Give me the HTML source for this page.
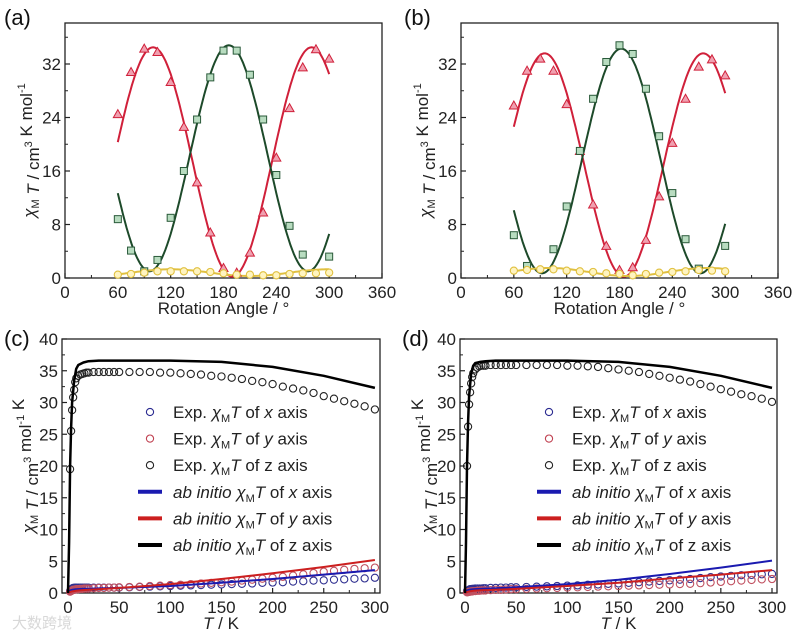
<!DOCTYPE html>
<html><head><meta charset="utf-8">
<style>
body{margin:0;background:#fff}
svg{display:block;font-family:"Liberation Sans","Noto Sans CJK SC",sans-serif}
</style></head>
<body>
<svg id="chart" width="800" height="638" viewBox="0 0 800 638" xmlns="http://www.w3.org/2000/svg"></svg>
<script>
// ---------- data: panels a/b (rotation angle) ----------
const angles = [60,75,90,105,120,135,150,165,180,195,210,225,240,255,270,285,300];
const aRed = [24.5,30.8,34.3,33.8,29.3,22.6,14.3,6.8,1.5,0.8,3.8,9.8,18,25.4,31.5,34.2,32.8];
const aGreen = [8.8,4.1,1.0,2.7,9.0,16,23.7,30,34,34,30.4,23.7,15.4,7.8,3.5,null,3.2];
const aYellow = [0.5,0.6,0.8,1.0,1.0,1.0,1.0,0.9,0.7,0.5,0.5,0.4,0.4,0.6,0.7,0.7,0.8];
const bRed = [25.8,31,32.8,31,26,19,11,4.8,1.2,1.6,5.7,12.2,20.2,26.8,31.6,32.7,30.3];
const bGreen = [6.4,1.8,null,4.3,10.7,19,26.8,32.3,34.8,33.5,28.3,21.2,12.7,5.8,1.4,null,4.8];
const bYellow = [1.1,1.2,1.3,1.3,1.1,1.0,0.9,0.7,0.6,0.4,0.6,0.8,0.9,1.0,1.2,1.1,1.0];
// fit parameters [min, max, phase-of-min (deg)] for cos² fits, period 180°
const aRedFit = [0.2,34.5,190], aGreenFit = [1.0,34.8,96], aYellowFit = [0.3,1.3,210];
const bRedFit = [0.2,33.6,185], bGreenFit = [0.7,34.3,92], bYellowFit = [0.3,1.5,190];
const angleTicks = [0,60,120,180,240,300,360];
const angleYTicks = [0,8,16,24,32];

// ---------- data: panels c/d (temperature) ----------
const temps = [2,3,4,5,6,7,8,10,12,14,16,18,20,25,30,35,40,45,50,60,70,80,90,100,110,120,130,140,150,160,170,180,190,200,210,220,230,240,250,260,270,280,290,300];
const cZ = [19.5,25.5,28.8,30.8,32,33.2,33.8,34.2,34.4,34.5,34.6,34.7,34.7,34.8,34.8,34.8,34.8,34.8,34.8,34.8,34.8,34.8,34.7,34.7,34.6,34.5,34.4,34.2,34.1,33.9,33.7,33.4,33.2,32.9,32.5,32.2,31.9,31.5,31.0,30.6,30.2,29.8,29.4,28.9];
const cX = [0.3,0.5,0.7,0.8,0.8,0.85,0.85,0.85,0.85,0.85,0.85,0.85,0.85,0.85,0.85,0.85,0.85,0.85,0.85,0.9,0.95,1.0,1.05,1.1,1.15,1.2,1.25,1.3,1.35,1.4,1.45,1.5,1.6,1.65,1.7,1.8,1.85,1.95,2.0,2.1,2.15,2.25,2.3,2.4];
const cY = [0.2,0.3,0.4,0.5,0.5,0.55,0.6,0.6,0.65,0.65,0.7,0.7,0.7,0.75,0.8,0.8,0.85,0.85,0.9,0.95,1.0,1.1,1.15,1.25,1.3,1.4,1.5,1.6,1.7,1.8,1.95,2.1,2.25,2.4,2.55,2.75,2.95,3.15,3.35,3.5,3.65,3.8,3.9,4.0];
const dZ = [20,26.2,29.7,31.6,33,34,34.6,35.2,35.5,35.7,35.8,35.8,35.8,35.9,35.9,35.9,35.9,35.9,35.9,35.9,35.9,35.9,35.9,35.8,35.8,35.7,35.6,35.4,35.2,35.0,34.8,34.5,34.2,33.9,33.6,33.3,32.9,32.5,32.1,31.7,31.3,31.0,30.6,30.1];
const dX = [0.3,0.4,0.5,0.6,0.6,0.65,0.65,0.7,0.7,0.7,0.7,0.75,0.75,0.8,0.8,0.85,0.85,0.9,0.9,0.95,1.0,1.05,1.1,1.15,1.2,1.3,1.35,1.45,1.5,1.6,1.7,1.8,1.9,2.0,2.1,2.2,2.35,2.5,2.6,2.7,2.8,2.85,2.95,3.0];
const dY = [0.1,0.15,0.2,0.2,0.25,0.25,0.3,0.3,0.35,0.35,0.4,0.4,0.4,0.45,0.5,0.5,0.55,0.6,0.6,0.65,0.7,0.75,0.8,0.85,0.9,0.95,1.0,1.05,1.1,1.15,1.2,1.25,1.3,1.35,1.4,1.45,1.55,1.65,1.75,1.85,1.95,2.05,2.15,2.2];
const calcT = [0,1,2,3,4,6,8,10,15,20,30,50,100,150,200,250,300];
const cZcalc = [0,8,20,26,30,33.5,35.3,35.9,36.3,36.5,36.6,36.6,36.6,36.4,35.6,34.2,32.3];
const cXcalc = [0,0.3,0.4,0.45,0.5,0.55,0.6,0.62,0.65,0.68,0.72,0.8,1.1,1.6,2.2,2.9,3.6];
const cYcalc = [0,0.1,0.15,0.2,0.25,0.3,0.35,0.4,0.45,0.5,0.6,0.8,1.4,2.2,3.1,4.1,5.2];
const dZcalc = [0,8,20,27,31,34.5,35.8,36.2,36.4,36.5,36.6,36.6,36.6,36.4,35.6,34.2,32.3];
const dXcalc = [0,0.3,0.4,0.45,0.5,0.55,0.6,0.62,0.65,0.7,0.75,0.9,1.4,2.1,3.0,4.0,5.1];
const dYcalc = [0,0.1,0.15,0.2,0.25,0.3,0.35,0.38,0.42,0.45,0.5,0.65,1.1,1.6,2.3,2.9,3.6];
const tempTicks = [0,50,100,150,200,250,300];
const tempYTicks = [0,5,10,15,20,25,30,35,40];
const legendLabels = [["Exp. ","x"],["Exp. ","y"],["Exp. ","z"],["ab initio ","x"],["ab initio ","y"],["ab initio ","z"]];

const NS="http://www.w3.org/2000/svg";
const svg=document.getElementById('chart');
function mk(tag,attrs,parent){const e=document.createElementNS(NS,tag);for(const k in attrs)e.setAttribute(k,attrs[k]);(parent||svg).appendChild(e);return e;}

function axes(p){
  const g=mk('g',{});
  
  
  const sx=v=>p.x0+(v-p.xmin)/(p.xmax-p.xmin)*(p.x1-p.x0);
  const sy=v=>p.y1-(v-p.ymin)/(p.ymax-p.ymin)*(p.y1-p.y0);
  p.sx=sx;p.sy=sy;
  mk('rect',{x:p.x0,y:p.y0,width:p.x1-p.x0,height:p.y1-p.y0,fill:'none',stroke:'#222','stroke-width':1.3},g);
  p.xt.forEach((v,i)=>{
    const x=sx(v);
    mk('line',{x1:x,x2:x,y1:p.y1,y2:p.y1-5,stroke:'#222','stroke-width':1.2},g);
    if(i<p.xt.length-1){const xm=sx((v+p.xt[i+1])/2);mk('line',{x1:xm,x2:xm,y1:p.y1,y2:p.y1-3,stroke:'#222'},g);}
    const t=mk('text',{x:x,y:p.y1+20,'font-size':17,'text-anchor':'middle',fill:'#222'},g);
    t.textContent=v;
    
    
  });
  p.yt.forEach((v,i)=>{
    const y=sy(v);
    mk('line',{x1:p.x0,x2:p.x0+5,y1:y,y2:y,stroke:'#222','stroke-width':1.2},g);
    const step=p.yt[1]-p.yt[0];
    const ym=sy(v+step/2); if(ym>p.y0) mk('line',{x1:p.x0,x2:p.x0+3,y1:ym,y2:ym,stroke:'#222'},g);
    const t=mk('text',{x:p.x0-4,y:y+6,'font-size':17,'text-anchor':'end',fill:'#222'},g);
    t.textContent=v;
    
    
  });
  const pl=mk('text',{x:p.lx,y:p.ly,'font-size':22,fill:'#111'});
  pl.textContent=p.label;
  
  
  const xt=mk('text',{x:(p.x0+p.x1)/2,y:p.y1+36,'font-size':17,'text-anchor':'middle',fill:'#222'});
  
  
  if(p.temp){const a=mk('tspan',{'font-style':'italic'},xt);a.textContent='T';const b=mk('tspan',{},xt);b.textContent=' / K';}
  else xt.textContent='Rotation Angle / °';
  const yt=mk('text',{transform:`translate(${p.ytx},${(p.y0+p.y1)/2}) rotate(-90)`,'font-size':17,'text-anchor':'middle',fill:'#222'});
  
  
  const parts=p.temp?[['χ','i'],['M','sub'],[' T','i'],[' / cm',''],['3','sup'],[' mol',''],['-1','sup'],[' K','']]
                   :[['χ','i'],['M','sub'],[' T','i'],[' / cm',''],['3','sup'],[' K mol',''],['-1','sup']];
  parts.forEach(([s,k])=>{const a={};if(k=='i')a['font-style']='italic';if(k=='sub'){a['font-size']=11;a['dy']=4;}if(k=='sup'){a['font-size']=11;a['dy']=-7;}
    const ts=mk('tspan',a,yt);ts.textContent=s;
    if(k=='sub'){const r=mk('tspan',{dy:-4},yt);r.textContent='';}
    if(k=='sup'){const r=mk('tspan',{dy:7},yt);r.textContent='';}
  });
}

function fitLine(p,fit,color,name){
  let d='';
  for(let th=60;th<=300;th+=2){const v=fit[0]+(fit[1]-fit[0])*Math.pow(Math.sin((th-fit[2])*Math.PI/180),2);d+=(d?'L':'M')+p.sx(th).toFixed(1)+','+p.sy(v).toFixed(1);}
  const e=mk('path',{d:d,fill:'none',stroke:color,'stroke-width':2});
  
  
}
function marks(p,xs,ys,shape,stroke,fill,name){
  const g=mk('g',{});
  
  
  xs.forEach((xv,i)=>{const yv=ys[i];if(yv==null)return;const x=p.sx(xv),y=p.sy(yv);
    let e;
    if(shape=='tri') e=mk('polygon',{points:`${x},${y-4.5} ${x-4.5},${y+3.5} ${x+4.5},${y+3.5}`,fill:fill,stroke:stroke,'stroke-width':1},g);
    else if(shape=='sq') e=mk('rect',{x:x-3.5,y:y-3.5,width:7,height:7,fill:fill,stroke:stroke,'stroke-width':1},g);
    else e=mk('circle',{cx:x,cy:y,r:3.6,fill:fill,stroke:stroke,'stroke-width':1.1},g);
    
    
  });
}
function curve(p,xs,ys,color,w,name){
  const d=xs.map((x,i)=>(i?'L':'M')+p.sx(x).toFixed(1)+','+p.sy(ys[i]).toFixed(1)).join('');
  const e=mk('path',{d:d,fill:'none',stroke:color,'stroke-width':w,'stroke-linejoin':'round'});
  
  
}
function legend(mx,ly){
  const g=mk('g',{});
  
  
  const cols=['#2a2a90','#c04050','#222','#1a1ab0','#cc1f1f','#000'];
  legendLabels.forEach((lab,i)=>{
    const y=ly+i*26.6;
    if(i<3) mk('circle',{cx:mx,cy:y,r:3.6,fill:'none',stroke:cols[i],'stroke-width':1.1},g);
    else mk('line',{x1:mx-12,x2:mx+12,y1:y,y2:y,stroke:cols[i],'stroke-width':4},g);
    const t=mk('text',{x:mx+23,y:y+6,'font-size':17,fill:'#222'},g);
    
    
    const a=mk('tspan',i>=3?{'font-style':'italic'}:{},t);a.textContent=lab[0];
    const b=mk('tspan',{'font-style':'italic'},t);b.textContent='χ';
    const c=mk('tspan',{'font-size':11,dy:4},t);c.textContent='M';
    const d=mk('tspan',{'font-style':'italic',dy:-4},t);d.textContent='T';
    const e=mk('tspan',{},t);e.textContent=' of ';
    const f=mk('tspan',{'font-style':lab[1]=='z'?'normal':'italic'},t);f.textContent=lab[1];
    const h=mk('tspan',{},t);h.textContent=' axis';
  });
}

const pa={name:'panel-a',label:'(a)',lx:4,ly:25,x0:65,x1:382,y0:23,y1:278,xmin:0,xmax:360,ymin:0,ymax:255/6.6875,xt:angleTicks,yt:angleYTicks,ytx:35};
axes(pa);
fitLine(pa,aRedFit,'#d0203a','fit-red-a');fitLine(pa,aGreenFit,'#1d4a2a','fit-green-a');fitLine(pa,aYellowFit,'#e0c040','fit-yellow-a');
marks(pa,angles,aRed,'tri','#d0203a','#f0a0b0','series-red-a');
marks(pa,angles,aGreen,'sq','#2a5a3a','#b8dcc0','series-green-a');
marks(pa,angles,aYellow,'c','#e0c040','#fff4c0','series-yellow-a');
const pb={name:'panel-b',label:'(b)',lx:404,ly:25,x0:461,x1:778,y0:23,y1:278,xmin:0,xmax:360,ymin:0,ymax:255/6.6875,xt:angleTicks,yt:angleYTicks,ytx:431};
axes(pb);
fitLine(pb,bRedFit,'#d0203a','fit-red-b');fitLine(pb,bGreenFit,'#1d4a2a','fit-green-b');fitLine(pb,bYellowFit,'#e0c040','fit-yellow-b');
marks(pb,angles,bRed,'tri','#d0203a','#f0a0b0','series-red-b');
marks(pb,angles,bGreen,'sq','#2a5a3a','#b8dcc0','series-green-b');
marks(pb,angles,bYellow,'c','#e0c040','#fff4c0','series-yellow-b');
const pc={name:'panel-c',label:'(c)',lx:4,ly:346,temp:true,x0:62,x1:380,y0:339,y1:593,xmin:-5.9,xmax:305,ymin:0,ymax:40,xt:tempTicks,yt:tempYTicks,ytx:34};
axes(pc);
marks(pc,temps,cX,'o','#303090','none','exp-x-c');
marks(pc,temps,cY,'o','#c05060','none','exp-y-c');
curve(pc,calcT,cXcalc,'#1a1ab0',2,'calc-x-c');
curve(pc,calcT,cYcalc,'#cc1f1f',2,'calc-y-c');
marks(pc,temps,cZ,'o','#222','none','exp-z-c');
curve(pc,calcT,cZcalc,'#000',2.5,'calc-z-c');
legend(150,412);
const pd={name:'panel-d',label:'(d)',lx:402,ly:346,temp:true,x0:460,x1:777,y0:339,y1:593,xmin:-2.5,xmax:304,ymin:0,ymax:40,xt:tempTicks,yt:tempYTicks,ytx:433};
pd.xmin=-(465-460)/((772-465)/300); pd.xmax=300+(777-772)/((772-465)/300);
axes(pd);
marks(pd,temps,dX,'o','#303090','none','exp-x-d');
marks(pd,temps,dY,'o','#c05060','none','exp-y-d');
curve(pd,calcT,dXcalc,'#1a1ab0',2,'calc-x-d');
curve(pd,calcT,dYcalc,'#cc1f1f',2,'calc-y-d');
marks(pd,temps,dZ,'o','#222','none','exp-z-d');
curve(pd,calcT,dZcalc,'#000',2.5,'calc-z-d');
legend(549,412);
const wm=mk('text',{x:12,y:628,'font-size':15,fill:'#d8d8d8'});
wm.textContent='大数跨境';


</script>
</body></html>
